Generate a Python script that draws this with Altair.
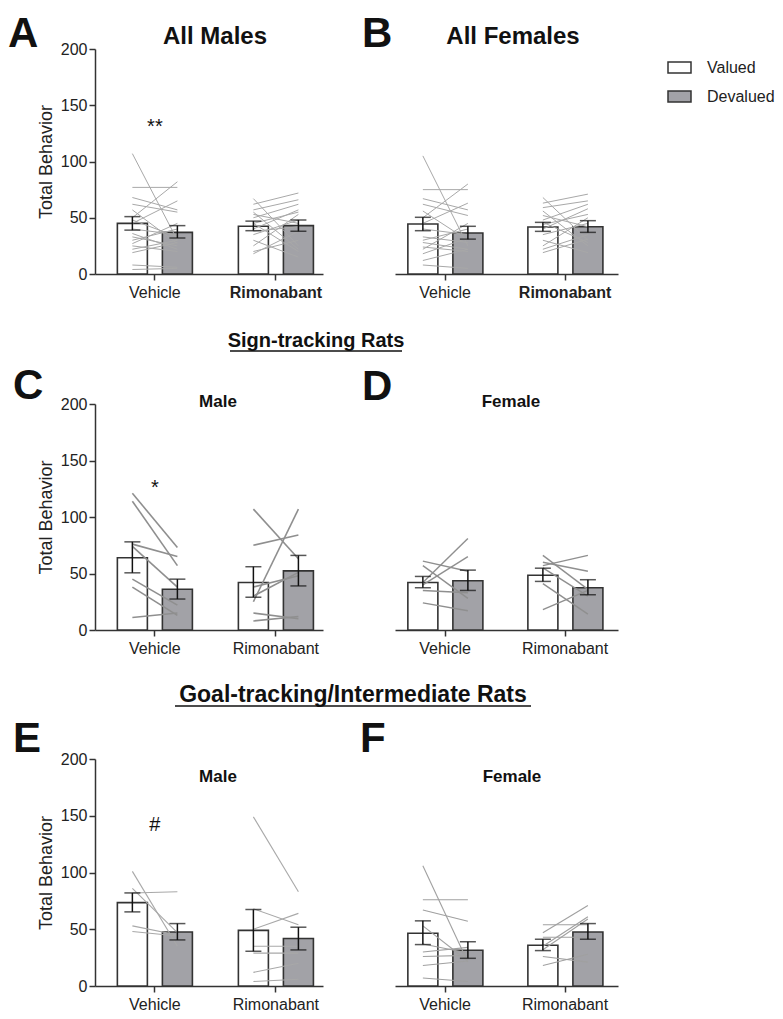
import altair as alt
import pandas as pd

FONT = "Liberation Sans"
groups = ["Vehicle", "Rimonabant"]
conditions = ["Valued", "Devalued"]
y_ticks = [0, 50, 100, 150, 200]

# Bar means and SEM limits; order: Vehicle-Valued, Vehicle-Devalued, Rimonabant-Valued, Rimonabant-Devalued
a_mean = [45, 37, 42.5, 43]
a_lo = [39, 32, 38.5, 38]
a_hi = [51, 43, 47, 48]
b_mean = [44.4, 36.4, 41.8, 42]
b_lo = [38.5, 31, 37.9, 37]
b_hi = [50.4, 42.4, 45.9, 47.4]
c_mean = [64, 36, 42, 52.3]
c_lo = [50.6, 27.4, 29, 39]
c_hi = [78, 45, 56, 66]
d_mean = [42, 43.6, 48.5, 37.4]
d_lo = [37.4, 35, 43, 31.2]
d_hi = [47.4, 53, 54.7, 44.5]
e_mean = [73.5, 47.6, 49, 41.8]
e_lo = [65.3, 40.6, 30.6, 31.8]
e_hi = [82, 55, 67.4, 51.8]
f_mean = [46.5, 31.5, 35.9, 47.6]
f_lo = [36.5, 24.4, 31.2, 41.2]
f_hi = [57.4, 39, 41.2, 55]

# Individual rats (valued -> devalued)
a_veh_val = [107, 77, 68, 62, 57, 50, 45, 40, 36, 33, 30, 27, 25, 22, 19, 8, 4, 48]
a_veh_dev = [30, 77, 57, 55, 27, 82, 65, 35, 22, 25, 40, 45, 20, 30, 28, 6, 5, 33]
a_rim_val = [67, 62, 57, 55, 53, 50, 45, 40, 35, 30, 25, 20, 18, 45, 38]
a_rim_dev = [25, 72, 66, 22, 45, 62, 55, 57, 48, 15, 53, 30, 38, 20, 42]
b_veh_val = [105, 75, 67, 62, 56, 50, 45, 40, 33, 30, 28, 24, 22, 18, 8, 12]
b_veh_dev = [25, 75, 57, 52, 30, 80, 63, 35, 28, 40, 22, 20, 45, 32, 5, 22]
b_rim_val = [68, 63, 59, 56, 52, 48, 44, 40, 35, 30, 25, 22, 19, 46]
b_rim_dev = [30, 71, 65, 25, 42, 62, 53, 58, 45, 19, 50, 35, 31, 28]
c_veh_val = [121, 114, 76, 74, 45, 38, 11]
c_veh_dev = [73, 57, 65, 38, 22, 13, 15]
c_rim_val = [107, 25, 75, 38, 30, 15, 8]
c_rim_dev = [63, 107, 84, 48, 51, 10, 12]
d_veh_val = [42, 40, 61, 57, 35, 24]
d_veh_dev = [81, 65, 52, 28, 33, 17]
d_rim_val = [57, 66, 60, 55, 41, 18]
d_rim_dev = [66, 36, 52, 30, 14, 35]
e_veh_val = [101, 86, 82, 53, 48]
e_veh_dev = [35, 47, 83, 45, 44]
e_rim_val = [149, 68, 50, 35, 29, 12, 4]
e_rim_dev = [83, 54, 64, 35, 29, 20, 6]
f_veh_val = [106, 76, 67, 53, 37, 30, 26, 18, 7]
f_veh_dev = [21, 76, 57, 22, 29, 34, 27, 22, 4]
f_rim_val = [47, 54, 35, 32, 43, 26, 18]
f_rim_dev = [71, 54, 61, 59, 43, 21, 28]

# Significance marks
a_sig = ["**"]
a_sig_y = [131]
c_sig = ["*"]
c_sig_y = [126]
e_sig = ["#"]
e_sig_y = [142]


def bar_df(means, lo, hi):
    rows, k = [], 0
    for g in groups:
        for c in conditions:
            rows.append(dict(group=g, cond=c, mean=means[k], lo=lo[k], hi=hi[k]))
            k += 1
    return pd.DataFrame(rows)


def ind_df(vv, vd, rv, rd):
    rows = []
    for g, vals, devs in [("Vehicle", vv, vd), ("Rimonabant", rv, rd)]:
        for i, (v, d) in enumerate(zip(vals, devs)):
            rows.append(dict(group=g, cond="Valued", subj=f"{g}{i}", value=v))
            rows.append(dict(group=g, cond="Devalued", subj=f"{g}{i}", value=d))
    return pd.DataFrame(rows)


legend = alt.Legend(
    orient="none", legendX=572, legendY=6, title=None,
    symbolType="M-1,-0.48H1V0.48H-1Z", symbolSize=529,
    symbolStrokeColor="#333333", symbolStrokeWidth=1.5, symbolOpacity=1,
    labelFont=FONT, labelFontSize=16, labelColor="#222222", labelOffset=15,
    rowPadding=7, padding=0,
)


def text_layer(txt, x, y, size, weight="bold", align="left"):
    return alt.Chart(pd.DataFrame({"t": [txt]})).mark_text(
        font=FONT, fontSize=size, fontWeight=weight, align=align,
        baseline="alphabetic", color="#111111"
    ).encode(x=alt.value(x), y=alt.value(y), text="t:N")


def panel(bars, ind, sig, sig_y, show_y, width, height, po, align, letter, lxy,
          title, txy, tsize, lcolor, lwidth, rim_bold=False, header=None):
    label_weight = ({"condition": {"test": "datum.value == 'Rimonabant'", "value": "bold"},
                     "value": "normal"} if rim_bold else "normal")
    x = alt.X("group:N", sort=groups,
              scale=alt.Scale(domain=groups, paddingInner=0.38, paddingOuter=po, align=align),
              axis=alt.Axis(title=None, labelAngle=0, labelFont=FONT, labelFontSize=16,
                            labelColor="#222222", labelFontWeight=label_weight,
                            tickSize=6, tickWidth=1.5, tickColor="#333333",
                            domainColor="#333333", domainWidth=1.5, labelPadding=4))
    xo = alt.XOffset("cond:N", sort=conditions,
                     scale=alt.Scale(domain=conditions, paddingInner=1 / 3, paddingOuter=0))
    ys = alt.Scale(domain=[0, 200], nice=False, zero=True)
    if show_y:
        ya = alt.Axis(values=y_ticks, title="Total Behavior", titleFont=FONT, titleFontSize=18,
                      titleFontWeight="normal", titleColor="#222222", titlePadding=5,
                      labelFont=FONT, labelFontSize=16, labelColor="#222222", labelPadding=2,
                      tickSize=6, tickWidth=1.5, tickColor="#333333",
                      domainColor="#333333", domainWidth=1.5, grid=False)
    else:
        ya = None
    b = alt.Chart(bars).mark_bar(stroke="#333333", strokeWidth=1.6).encode(
        x=x, xOffset=xo, y=alt.Y("mean:Q", scale=ys, axis=ya),
        fill=alt.Fill("cond:N", scale=alt.Scale(domain=conditions, range=["#ffffff", "#a2a2a7"]),
                      legend=legend))
    ln = alt.Chart(ind).mark_line(color=lcolor, strokeWidth=lwidth).encode(
        x=x, xOffset=xo, y=alt.Y("value:Q", scale=ys, axis=ya), detail="subj:N")
    er = alt.Chart(bars).mark_rule(color="#111111", strokeWidth=1.5).encode(
        x=x, xOffset=xo, y=alt.Y("lo:Q", scale=ys, axis=ya), y2="hi:Q")
    caps = alt.Chart(bars).transform_fold(["lo", "hi"], as_=["end", "v"]).mark_tick(
        color="#111111", thickness=1.5, size=16).encode(
        x=x, xOffset=xo, y=alt.Y("v:Q", scale=ys, axis=ya))
    layers = [b, ln, er, caps]
    if sig:
        sd = pd.DataFrame({"group": ["Vehicle"] * len(sig), "label": sig, "value": sig_y})
        layers.append(alt.Chart(sd).mark_text(font=FONT, fontSize=20, color="#111111",
                                              baseline="middle").encode(
            x=x, y=alt.Y("value:Q", scale=ys, axis=ya), text="label:N"))
    layers.append(text_layer(letter, lxy[0], lxy[1], 42))
    layers.append(text_layer(title, txy[0], txy[1], tsize, align="center"))
    if header:
        htxt, hx, hy, hw, hsize = header
        layers.append(text_layer(htxt, hx, hy, hsize, align="center"))
        layers.append(alt.Chart(pd.DataFrame({"t": [htxt]})).mark_rule(
            color="#111111", strokeWidth=1.5).encode(
            x=alt.value(hx - hw / 2), x2=alt.value(hx + hw / 2), y=alt.value(hy + 4)))
    return alt.layer(*layers).properties(width=width, height=height)


W1, W2 = 228, 223
PO1, AL1 = 0.132, 0.70
PO2, AL2 = 0.119, 0.45
pA = panel(bar_df(a_mean, a_lo, a_hi), ind_df(a_veh_val, a_veh_dev, a_rim_val, a_rim_dev),
           a_sig, a_sig_y, True, W1, 225, PO1, AL1, "A", (-87, -2),
           "All Males", (120, -5), 24, "#a8a8a8", 1, rim_bold=True)
pB = panel(bar_df(b_mean, b_lo, b_hi), ind_df(b_veh_val, b_veh_dev, b_rim_val, b_rim_dev),
           None, None, False, W2, 225, PO2, AL2, "B", (-33, -2),
           "All Females", (118, -5), 24, "#a8a8a8", 1, rim_bold=True)
pC = panel(bar_df(c_mean, c_lo, c_hi), ind_df(c_veh_val, c_veh_dev, c_rim_val, c_rim_dev),
           c_sig, c_sig_y, True, W1, 226, PO1, AL1, "C", (-82, -5),
           "Male", (123, 3), 17, "#8f8f8f", 1.6,
           header=("Sign-tracking Rats", 221, -57, 172, 20))
pD = panel(bar_df(d_mean, d_lo, d_hi), ind_df(d_veh_val, d_veh_dev, d_rim_val, d_rim_dev),
           None, None, False, W2, 226, PO2, AL2, "D", (-33, -4),
           "Female", (116, 3), 17, "#8f8f8f", 1.4)
pE = panel(bar_df(e_mean, e_lo, e_hi), ind_df(e_veh_val, e_veh_dev, e_rim_val, e_rim_dev),
           e_sig, e_sig_y, True, W1, 227, PO1, AL1, "E", (-82, -7),
           "Male", (123, 23), 17, "#a8a8a8", 1.1,
           header=("Goal-tracking/Intermediate Rats", 258, -57, 356, 23))
pF = panel(bar_df(f_mean, f_lo, f_hi), ind_df(f_veh_val, f_veh_dev, f_rim_val, f_rim_dev),
           None, None, False, W2, 227, PO2, AL2, "F", (-35, -7),
           "Female", (117, 23), 17, "#a0a0a0", 1.1)

rowA = alt.hconcat(pA, pB, spacing=72, bounds="flush")
rowC = alt.hconcat(pC, pD, spacing=72, bounds="flush")
rowE = alt.hconcat(pE, pF, spacing=72, bounds="flush")

chart = alt.vconcat(rowA, rowC, rowE, spacing=355, bounds="flush").properties(
    padding={"top": 5, "left": 0, "right": 0, "bottom": 0}, background="white"
).configure_view(stroke=None).configure_axis(grid=False)

chart.save("out.html", embed_options={"renderer": "svg", "actions": False})
